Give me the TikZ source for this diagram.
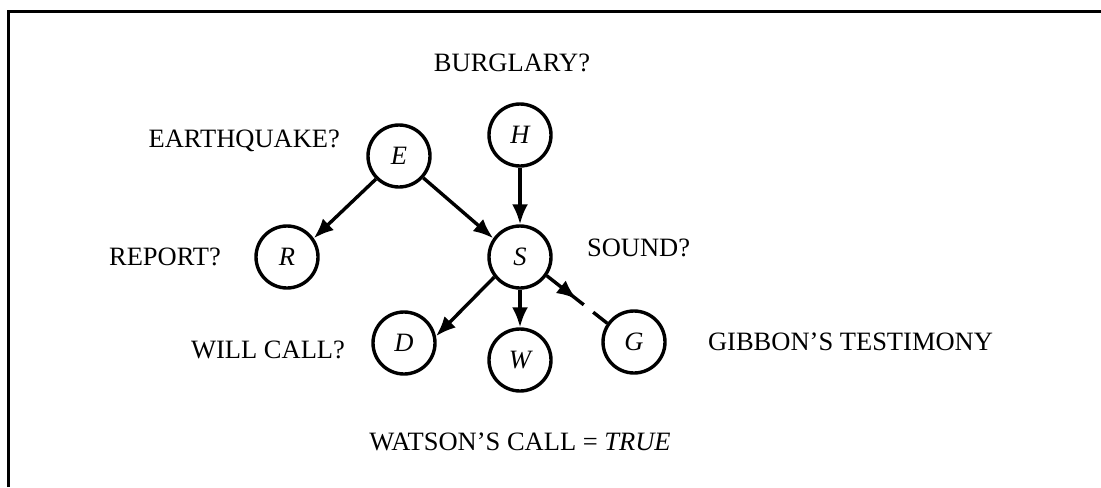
\documentclass[tikz,border=0pt]{standalone}
\usepackage{fontspec}
\setmainfont{Liberation Serif}
\usetikzlibrary{positioning,arrows.meta,decorations.markings}
\newcommand\netfont{\fontsize{13.25}{16}\selectfont}
\tikzset{var/.style={draw,circle,line width=1.7pt,minimum size=31pt,inner sep=0pt,font=\netfont\itshape},lbl/.style={inner sep=0pt,text depth=0pt,font=\netfont},arr/.style={-{Latex[length=10pt,width=8pt]},line width=1.7pt},brokenarr/.style={line width=1.7pt,dash pattern=on 23.5pt off 6pt,postaction={decorate},decoration={markings,mark=at position 19pt with {\arrow{Latex[length=10pt,width=8pt]}}}}}

\begin{document}
\begin{tikzpicture}
\useasboundingbox (0,0) rectangle (550.5pt,-243.5pt);
\draw[line width=1.5pt] (4.3pt,-243.5pt) -- (4.3pt,-5.5pt) -- (550.5pt,-5.5pt);
% the network
\node[var] (S) at (260pt,-128.5pt) {S};
\node[var,on grid,above=61pt of S] (H) {H};
\node[var,on grid,above left=50.5pt and 60.5pt of S] (E) {E};
\node[var,on grid,left=116.5pt of S] (R) {R};
\node[var,on grid,below=51.5pt of S] (W) {W};
\node[var,on grid,below left=43pt and 58pt of S] (D) {D};
\node[var,on grid,below right=42.5pt and 57pt of S] (G) {G};
% labels
\node[lbl,above=15pt of H,xshift=-4pt] (burglary) {BURGLARY?};
\node[lbl,left=13pt of E,yshift=8.5pt] (quake) {EARTHQUAKE?};
\node[lbl,left=16.5pt of R] (report) {REPORT?};
\node[lbl,right=17pt of S,yshift=4.5pt] (sound) {SOUND?};
\node[lbl,left=13pt of D,yshift=-3.5pt] (willcall) {WILL CALL?};
\node[lbl,right=20.5pt of G] (gibbon) {GIBBON'S TESTIMONY};
\node[lbl,below=20pt of W] (watson) {WATSON'S CALL = \textit{TRUE}};
% links
\draw[arr] (E.225) -- (R.35);
\draw[arr] (E.318) -- (S.145);
\draw[arr] (H.south) -- (S.north);
\draw[arr] (S.south) -- (W.north);
\draw[arr] (S.218) -- (D.12);
\draw[brokenarr] (S.325) -- (G.145);
\end{tikzpicture}
\end{document}
